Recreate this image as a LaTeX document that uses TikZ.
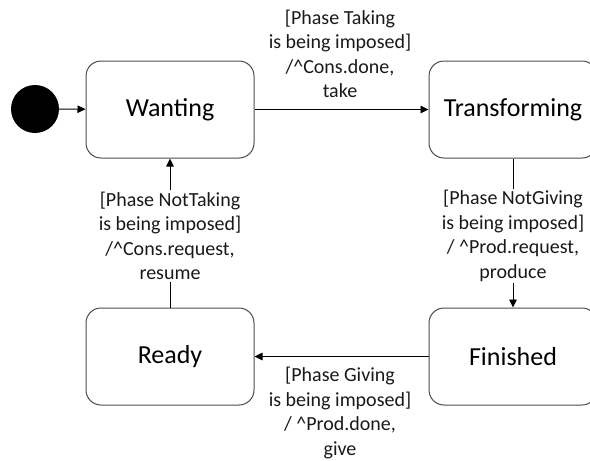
\documentclass[tikz,border=0pt]{standalone}
\usepackage{fontspec}
\setmainfont{Carlito}
\usepackage{tikz}
\usetikzlibrary{arrows.meta}

\begin{document}
\begin{tikzpicture}[x=1pt, y=-1pt,
    state/.style={draw=black!70, line width=1pt, rounded corners=15pt,
      minimum width=168pt, minimum height=97pt, inner sep=0pt,
      font=\fontsize{26}{31}\selectfont},
    guard/.style={align=center, inner sep=1.5pt, text=black!90,
      font=\fontsize{20}{24.5}\selectfont},
    trans/.style={line width=0.9pt, -{Triangle[length=8pt,width=7.5pt]}}]
    \useasboundingbox (0, 0) rectangle (590, 461);
    \clip (0, 0) rectangle (590, 461);
    % states
    \node[circle, fill=black, minimum size=48pt, inner sep=0pt] (init) at (35, 109) {};
    \node[state] (wanting) at (170, 109.5) {Wanting};
    \node[state] (transforming) at (513, 109.5) {Transforming};
    \node[state] (finished) at (513, 356.5) {Finished};
    \node[state] (ready) at (170, 356.5) {Ready};
    % guards
    \node[guard] (takeLbl) at (340, 54) {[Phase Taking\\is being imposed]\\/\textasciicircum Cons.done,\\take};
    \node[guard] (produceLbl) at (513, 236) {[Phase NotGiving\\is being imposed]\\/ \textasciicircum Prod.request,\\produce};
    \node[guard] (giveLbl) at (340, 413) {[Phase Giving\\is being imposed]\\/ \textasciicircum Prod.done,\\give};
    \node[guard] (resumeLbl) at (170, 236) {[Phase NotTaking\\is being imposed]\\/\textasciicircum Cons.request,\\resume};
    % transitions
    \draw[trans] (init) -- (wanting);
    \draw[trans] (wanting) -- (transforming);
    \draw[line width=0.9pt] (transforming) -- (produceLbl);
    \draw[trans] (produceLbl) -- (finished);
    \draw[trans] (finished) -- (ready);
    \draw[line width=0.9pt] (ready) -- (resumeLbl);
    \draw[trans] (resumeLbl) -- (wanting);
  \end{tikzpicture}
\end{document}
